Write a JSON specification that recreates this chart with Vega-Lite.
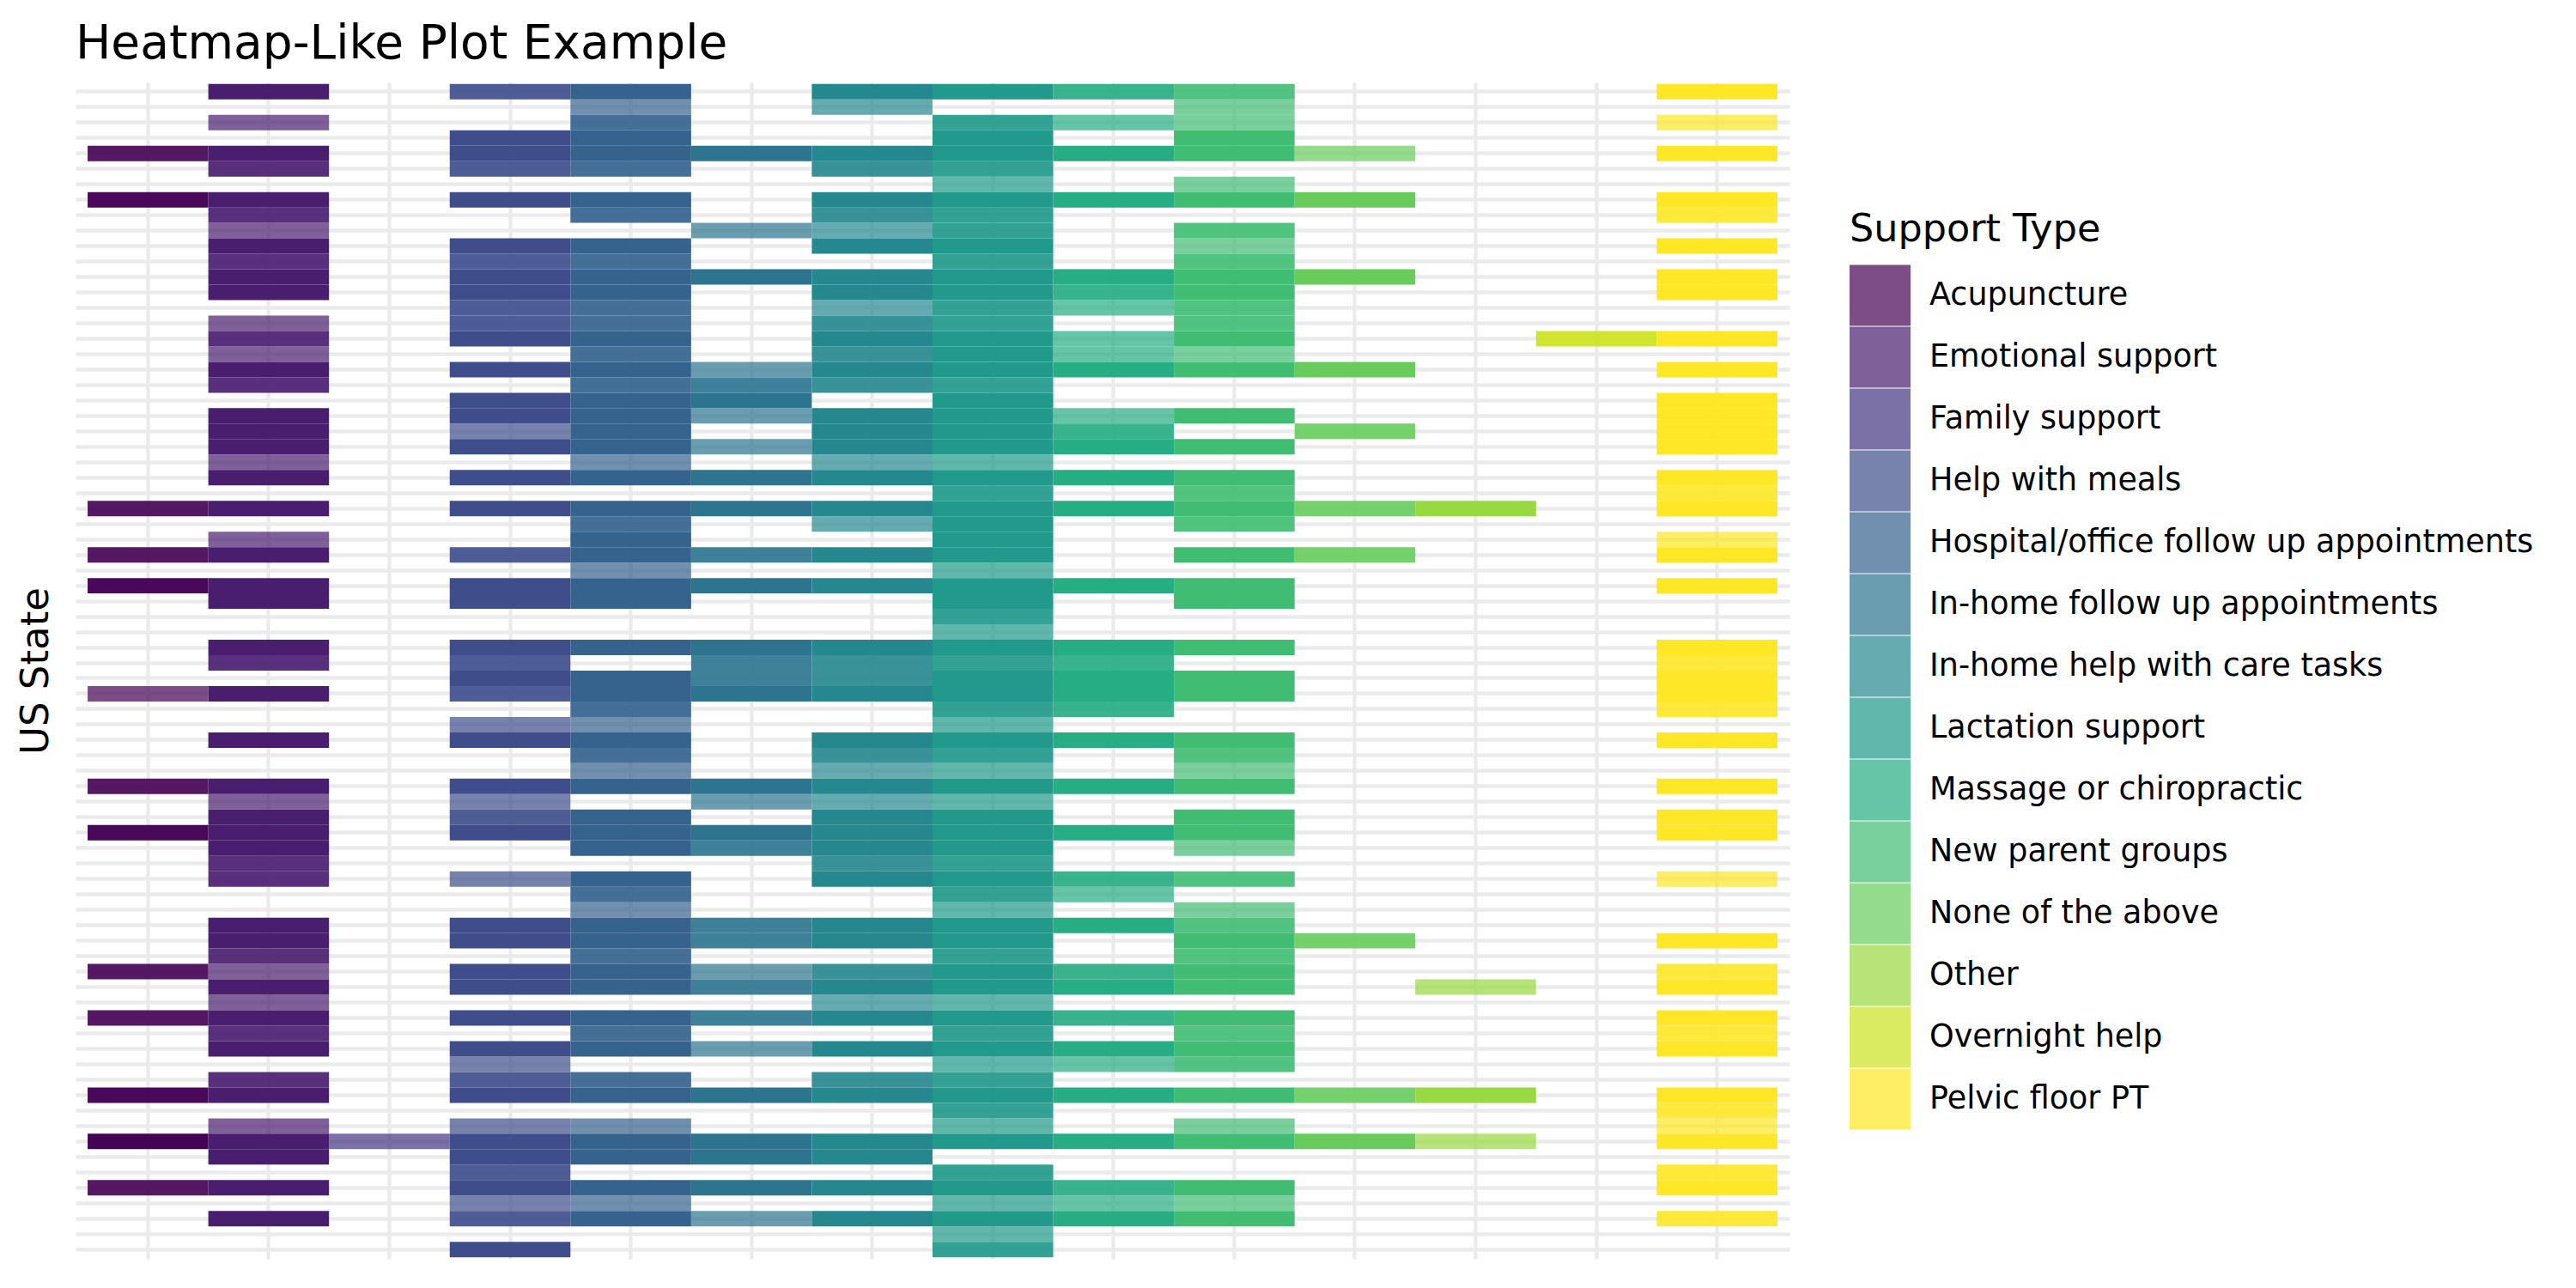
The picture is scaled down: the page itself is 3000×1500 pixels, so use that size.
{
  "$schema": "https://vega.github.io/schema/vega-lite/v6.json",
  "width": 1996,
  "height": 1370,
  "autosize": {"type": "none"},
  "padding": {"left": 88, "top": 96, "right": 916, "bottom": 34},
  "background": "white",
  "config": {"view": {"stroke": null}, "font": "DejaVu Sans"},
  "title": {"text": "Heatmap-Like Plot Example", "anchor": "start", "frame": "group", "fontSize": 55, "font": "DejaVu Sans", "fontWeight": "normal", "color": "black", "offset": 16},
  "data": {"values": [
{"state":"State 01","type":"Emotional support","n":4},{"state":"State 01","type":"Help with meals","n":2},{"state":"State 01","type":"Hospital/office follow up appointments","n":4},{"state":"State 01","type":"In-home help with care tasks","n":4},{"state":"State 01","type":"Lactation support","n":4},{"state":"State 01","type":"Massage or chiropractic","n":2},{"state":"State 01","type":"New parent groups","n":2},{"state":"State 01","type":"Pelvic floor PT","n":4},
{"state":"State 02","type":"Hospital/office follow up appointments","n":1},{"state":"State 02","type":"In-home help with care tasks","n":1},{"state":"State 02","type":"New parent groups","n":1},
{"state":"State 03","type":"Emotional support","n":1},{"state":"State 03","type":"Hospital/office follow up appointments","n":2},{"state":"State 03","type":"Lactation support","n":2},{"state":"State 03","type":"Massage or chiropractic","n":1},{"state":"State 03","type":"New parent groups","n":1},{"state":"State 03","type":"Pelvic floor PT","n":1},
{"state":"State 04","type":"Help with meals","n":4},{"state":"State 04","type":"Hospital/office follow up appointments","n":4},{"state":"State 04","type":"Lactation support","n":4},{"state":"State 04","type":"New parent groups","n":4},
{"state":"State 05","type":"Acupuncture","n":2},{"state":"State 05","type":"Emotional support","n":4},{"state":"State 05","type":"Help with meals","n":4},{"state":"State 05","type":"Hospital/office follow up appointments","n":4},{"state":"State 05","type":"In-home follow up appointments","n":4},{"state":"State 05","type":"In-home help with care tasks","n":4},{"state":"State 05","type":"Lactation support","n":4},{"state":"State 05","type":"Massage or chiropractic","n":4},{"state":"State 05","type":"New parent groups","n":4},{"state":"State 05","type":"None of the above","n":1},{"state":"State 05","type":"Pelvic floor PT","n":4},
{"state":"State 06","type":"Emotional support","n":2},{"state":"State 06","type":"Help with meals","n":2},{"state":"State 06","type":"Hospital/office follow up appointments","n":2},{"state":"State 06","type":"In-home help with care tasks","n":2},{"state":"State 06","type":"Lactation support","n":2},
{"state":"State 07","type":"Lactation support","n":1},{"state":"State 07","type":"New parent groups","n":1},
{"state":"State 08","type":"Acupuncture","n":3},{"state":"State 08","type":"Emotional support","n":4},{"state":"State 08","type":"Help with meals","n":4},{"state":"State 08","type":"Hospital/office follow up appointments","n":4},{"state":"State 08","type":"In-home help with care tasks","n":4},{"state":"State 08","type":"Lactation support","n":4},{"state":"State 08","type":"Massage or chiropractic","n":4},{"state":"State 08","type":"New parent groups","n":4},{"state":"State 08","type":"None of the above","n":4},{"state":"State 08","type":"Pelvic floor PT","n":4},
{"state":"State 09","type":"Emotional support","n":2},{"state":"State 09","type":"Hospital/office follow up appointments","n":2},{"state":"State 09","type":"In-home help with care tasks","n":2},{"state":"State 09","type":"Lactation support","n":2},{"state":"State 09","type":"Pelvic floor PT","n":2},
{"state":"State 10","type":"Emotional support","n":1},{"state":"State 10","type":"In-home follow up appointments","n":1},{"state":"State 10","type":"In-home help with care tasks","n":1},{"state":"State 10","type":"Lactation support","n":2},{"state":"State 10","type":"New parent groups","n":2},
{"state":"State 11","type":"Emotional support","n":4},{"state":"State 11","type":"Help with meals","n":4},{"state":"State 11","type":"Hospital/office follow up appointments","n":4},{"state":"State 11","type":"In-home help with care tasks","n":4},{"state":"State 11","type":"Lactation support","n":4},{"state":"State 11","type":"New parent groups","n":1},{"state":"State 11","type":"Pelvic floor PT","n":4},
{"state":"State 12","type":"Emotional support","n":2},{"state":"State 12","type":"Help with meals","n":2},{"state":"State 12","type":"Hospital/office follow up appointments","n":2},{"state":"State 12","type":"Lactation support","n":2},{"state":"State 12","type":"New parent groups","n":2},
{"state":"State 13","type":"Emotional support","n":4},{"state":"State 13","type":"Help with meals","n":4},{"state":"State 13","type":"Hospital/office follow up appointments","n":4},{"state":"State 13","type":"In-home follow up appointments","n":4},{"state":"State 13","type":"In-home help with care tasks","n":4},{"state":"State 13","type":"Lactation support","n":4},{"state":"State 13","type":"Massage or chiropractic","n":4},{"state":"State 13","type":"New parent groups","n":4},{"state":"State 13","type":"None of the above","n":4},{"state":"State 13","type":"Pelvic floor PT","n":4},
{"state":"State 14","type":"Emotional support","n":4},{"state":"State 14","type":"Help with meals","n":4},{"state":"State 14","type":"Hospital/office follow up appointments","n":4},{"state":"State 14","type":"In-home help with care tasks","n":4},{"state":"State 14","type":"Lactation support","n":4},{"state":"State 14","type":"Massage or chiropractic","n":2},{"state":"State 14","type":"New parent groups","n":4},{"state":"State 14","type":"Pelvic floor PT","n":4},
{"state":"State 15","type":"Help with meals","n":2},{"state":"State 15","type":"Hospital/office follow up appointments","n":2},{"state":"State 15","type":"In-home help with care tasks","n":1},{"state":"State 15","type":"Lactation support","n":2},{"state":"State 15","type":"Massage or chiropractic","n":1},{"state":"State 15","type":"New parent groups","n":2},
{"state":"State 16","type":"Emotional support","n":1},{"state":"State 16","type":"Help with meals","n":2},{"state":"State 16","type":"Hospital/office follow up appointments","n":2},{"state":"State 16","type":"In-home help with care tasks","n":2},{"state":"State 16","type":"Lactation support","n":2},{"state":"State 16","type":"New parent groups","n":2},
{"state":"State 17","type":"Emotional support","n":2},{"state":"State 17","type":"Help with meals","n":4},{"state":"State 17","type":"Hospital/office follow up appointments","n":4},{"state":"State 17","type":"In-home help with care tasks","n":4},{"state":"State 17","type":"Lactation support","n":4},{"state":"State 17","type":"Massage or chiropractic","n":1},{"state":"State 17","type":"New parent groups","n":4},{"state":"State 17","type":"Overnight help","n":2},{"state":"State 17","type":"Pelvic floor PT","n":4},
{"state":"State 18","type":"Emotional support","n":1},{"state":"State 18","type":"Hospital/office follow up appointments","n":2},{"state":"State 18","type":"In-home help with care tasks","n":2},{"state":"State 18","type":"Lactation support","n":4},{"state":"State 18","type":"Massage or chiropractic","n":1},{"state":"State 18","type":"New parent groups","n":1},
{"state":"State 19","type":"Emotional support","n":4},{"state":"State 19","type":"Help with meals","n":4},{"state":"State 19","type":"Hospital/office follow up appointments","n":4},{"state":"State 19","type":"In-home follow up appointments","n":1},{"state":"State 19","type":"In-home help with care tasks","n":4},{"state":"State 19","type":"Lactation support","n":4},{"state":"State 19","type":"Massage or chiropractic","n":4},{"state":"State 19","type":"New parent groups","n":4},{"state":"State 19","type":"None of the above","n":4},{"state":"State 19","type":"Pelvic floor PT","n":4},
{"state":"State 20","type":"Emotional support","n":2},{"state":"State 20","type":"Hospital/office follow up appointments","n":2},{"state":"State 20","type":"In-home follow up appointments","n":2},{"state":"State 20","type":"In-home help with care tasks","n":2},{"state":"State 20","type":"Lactation support","n":2},
{"state":"State 21","type":"Help with meals","n":4},{"state":"State 21","type":"Hospital/office follow up appointments","n":4},{"state":"State 21","type":"In-home follow up appointments","n":4},{"state":"State 21","type":"Lactation support","n":4},{"state":"State 21","type":"Pelvic floor PT","n":4},
{"state":"State 22","type":"Emotional support","n":4},{"state":"State 22","type":"Help with meals","n":4},{"state":"State 22","type":"Hospital/office follow up appointments","n":4},{"state":"State 22","type":"In-home follow up appointments","n":1},{"state":"State 22","type":"In-home help with care tasks","n":4},{"state":"State 22","type":"Lactation support","n":4},{"state":"State 22","type":"Massage or chiropractic","n":1},{"state":"State 22","type":"New parent groups","n":4},{"state":"State 22","type":"Pelvic floor PT","n":4},
{"state":"State 23","type":"Emotional support","n":4},{"state":"State 23","type":"Help with meals","n":1},{"state":"State 23","type":"Hospital/office follow up appointments","n":4},{"state":"State 23","type":"In-home help with care tasks","n":4},{"state":"State 23","type":"Lactation support","n":4},{"state":"State 23","type":"Massage or chiropractic","n":2},{"state":"State 23","type":"None of the above","n":2},{"state":"State 23","type":"Pelvic floor PT","n":4},
{"state":"State 24","type":"Emotional support","n":4},{"state":"State 24","type":"Help with meals","n":4},{"state":"State 24","type":"Hospital/office follow up appointments","n":4},{"state":"State 24","type":"In-home follow up appointments","n":1},{"state":"State 24","type":"In-home help with care tasks","n":4},{"state":"State 24","type":"Lactation support","n":4},{"state":"State 24","type":"Massage or chiropractic","n":4},{"state":"State 24","type":"New parent groups","n":4},{"state":"State 24","type":"Pelvic floor PT","n":4},
{"state":"State 25","type":"Emotional support","n":1},{"state":"State 25","type":"Hospital/office follow up appointments","n":1},{"state":"State 25","type":"In-home help with care tasks","n":1},{"state":"State 25","type":"Lactation support","n":1},
{"state":"State 26","type":"Emotional support","n":4},{"state":"State 26","type":"Help with meals","n":4},{"state":"State 26","type":"Hospital/office follow up appointments","n":4},{"state":"State 26","type":"In-home follow up appointments","n":4},{"state":"State 26","type":"In-home help with care tasks","n":4},{"state":"State 26","type":"Lactation support","n":4},{"state":"State 26","type":"Massage or chiropractic","n":4},{"state":"State 26","type":"New parent groups","n":4},{"state":"State 26","type":"Pelvic floor PT","n":4},
{"state":"State 27","type":"Lactation support","n":2},{"state":"State 27","type":"New parent groups","n":2},{"state":"State 27","type":"Pelvic floor PT","n":2},
{"state":"State 28","type":"Acupuncture","n":2},{"state":"State 28","type":"Emotional support","n":4},{"state":"State 28","type":"Help with meals","n":4},{"state":"State 28","type":"Hospital/office follow up appointments","n":4},{"state":"State 28","type":"In-home follow up appointments","n":4},{"state":"State 28","type":"In-home help with care tasks","n":4},{"state":"State 28","type":"Lactation support","n":4},{"state":"State 28","type":"Massage or chiropractic","n":4},{"state":"State 28","type":"New parent groups","n":4},{"state":"State 28","type":"None of the above","n":2},{"state":"State 28","type":"Other","n":4},{"state":"State 28","type":"Pelvic floor PT","n":4},
{"state":"State 29","type":"Hospital/office follow up appointments","n":2},{"state":"State 29","type":"In-home help with care tasks","n":1},{"state":"State 29","type":"Lactation support","n":4},{"state":"State 29","type":"New parent groups","n":2},
{"state":"State 30","type":"Emotional support","n":1},{"state":"State 30","type":"Hospital/office follow up appointments","n":4},{"state":"State 30","type":"Lactation support","n":4},{"state":"State 30","type":"Pelvic floor PT","n":1},
{"state":"State 31","type":"Acupuncture","n":2},{"state":"State 31","type":"Emotional support","n":4},{"state":"State 31","type":"Help with meals","n":2},{"state":"State 31","type":"Hospital/office follow up appointments","n":4},{"state":"State 31","type":"In-home follow up appointments","n":2},{"state":"State 31","type":"In-home help with care tasks","n":4},{"state":"State 31","type":"Lactation support","n":4},{"state":"State 31","type":"New parent groups","n":4},{"state":"State 31","type":"None of the above","n":2},{"state":"State 31","type":"Pelvic floor PT","n":4},
{"state":"State 32","type":"Hospital/office follow up appointments","n":1},{"state":"State 32","type":"Lactation support","n":1},
{"state":"State 33","type":"Acupuncture","n":3},{"state":"State 33","type":"Emotional support","n":4},{"state":"State 33","type":"Help with meals","n":4},{"state":"State 33","type":"Hospital/office follow up appointments","n":4},{"state":"State 33","type":"In-home follow up appointments","n":4},{"state":"State 33","type":"In-home help with care tasks","n":4},{"state":"State 33","type":"Lactation support","n":4},{"state":"State 33","type":"Massage or chiropractic","n":4},{"state":"State 33","type":"New parent groups","n":4},{"state":"State 33","type":"Pelvic floor PT","n":4},
{"state":"State 34","type":"Emotional support","n":4},{"state":"State 34","type":"Help with meals","n":4},{"state":"State 34","type":"Hospital/office follow up appointments","n":4},{"state":"State 34","type":"Lactation support","n":4},{"state":"State 34","type":"New parent groups","n":4},
{"state":"State 35","type":"Lactation support","n":2},
{"state":"State 36","type":"Lactation support","n":1},
{"state":"State 37","type":"Emotional support","n":4},{"state":"State 37","type":"Help with meals","n":4},{"state":"State 37","type":"Hospital/office follow up appointments","n":4},{"state":"State 37","type":"In-home follow up appointments","n":4},{"state":"State 37","type":"In-home help with care tasks","n":4},{"state":"State 37","type":"Lactation support","n":4},{"state":"State 37","type":"Massage or chiropractic","n":4},{"state":"State 37","type":"New parent groups","n":4},{"state":"State 37","type":"Pelvic floor PT","n":4},
{"state":"State 38","type":"Emotional support","n":2},{"state":"State 38","type":"Help with meals","n":2},{"state":"State 38","type":"In-home follow up appointments","n":2},{"state":"State 38","type":"In-home help with care tasks","n":2},{"state":"State 38","type":"Lactation support","n":2},{"state":"State 38","type":"Massage or chiropractic","n":2},{"state":"State 38","type":"Pelvic floor PT","n":2},
{"state":"State 39","type":"Help with meals","n":4},{"state":"State 39","type":"Hospital/office follow up appointments","n":4},{"state":"State 39","type":"In-home follow up appointments","n":2},{"state":"State 39","type":"In-home help with care tasks","n":2},{"state":"State 39","type":"Lactation support","n":4},{"state":"State 39","type":"Massage or chiropractic","n":4},{"state":"State 39","type":"New parent groups","n":4},{"state":"State 39","type":"Pelvic floor PT","n":4},
{"state":"State 40","type":"Acupuncture","n":1},{"state":"State 40","type":"Emotional support","n":4},{"state":"State 40","type":"Help with meals","n":2},{"state":"State 40","type":"Hospital/office follow up appointments","n":4},{"state":"State 40","type":"In-home follow up appointments","n":4},{"state":"State 40","type":"In-home help with care tasks","n":4},{"state":"State 40","type":"Lactation support","n":4},{"state":"State 40","type":"Massage or chiropractic","n":4},{"state":"State 40","type":"New parent groups","n":4},{"state":"State 40","type":"Pelvic floor PT","n":4},
{"state":"State 41","type":"Hospital/office follow up appointments","n":2},{"state":"State 41","type":"Lactation support","n":2},{"state":"State 41","type":"Massage or chiropractic","n":2},{"state":"State 41","type":"Pelvic floor PT","n":2},
{"state":"State 42","type":"Help with meals","n":1},{"state":"State 42","type":"Hospital/office follow up appointments","n":1},{"state":"State 42","type":"Lactation support","n":1},
{"state":"State 43","type":"Emotional support","n":4},{"state":"State 43","type":"Help with meals","n":4},{"state":"State 43","type":"Hospital/office follow up appointments","n":4},{"state":"State 43","type":"In-home help with care tasks","n":4},{"state":"State 43","type":"Lactation support","n":4},{"state":"State 43","type":"Massage or chiropractic","n":4},{"state":"State 43","type":"New parent groups","n":4},{"state":"State 43","type":"Pelvic floor PT","n":4},
{"state":"State 44","type":"Hospital/office follow up appointments","n":2},{"state":"State 44","type":"In-home help with care tasks","n":2},{"state":"State 44","type":"Lactation support","n":2},{"state":"State 44","type":"New parent groups","n":2},
{"state":"State 45","type":"Hospital/office follow up appointments","n":1},{"state":"State 45","type":"In-home help with care tasks","n":1},{"state":"State 45","type":"Lactation support","n":1},{"state":"State 45","type":"New parent groups","n":1},
{"state":"State 46","type":"Acupuncture","n":2},{"state":"State 46","type":"Emotional support","n":4},{"state":"State 46","type":"Help with meals","n":4},{"state":"State 46","type":"Hospital/office follow up appointments","n":4},{"state":"State 46","type":"In-home follow up appointments","n":4},{"state":"State 46","type":"In-home help with care tasks","n":4},{"state":"State 46","type":"Lactation support","n":4},{"state":"State 46","type":"Massage or chiropractic","n":4},{"state":"State 46","type":"New parent groups","n":4},{"state":"State 46","type":"Pelvic floor PT","n":4},
{"state":"State 47","type":"Emotional support","n":1},{"state":"State 47","type":"Help with meals","n":1},{"state":"State 47","type":"In-home follow up appointments","n":1},{"state":"State 47","type":"In-home help with care tasks","n":1},{"state":"State 47","type":"Lactation support","n":1},
{"state":"State 48","type":"Emotional support","n":4},{"state":"State 48","type":"Help with meals","n":2},{"state":"State 48","type":"Hospital/office follow up appointments","n":4},{"state":"State 48","type":"In-home help with care tasks","n":4},{"state":"State 48","type":"Lactation support","n":4},{"state":"State 48","type":"New parent groups","n":4},{"state":"State 48","type":"Pelvic floor PT","n":4},
{"state":"State 49","type":"Acupuncture","n":3},{"state":"State 49","type":"Emotional support","n":4},{"state":"State 49","type":"Help with meals","n":4},{"state":"State 49","type":"Hospital/office follow up appointments","n":4},{"state":"State 49","type":"In-home follow up appointments","n":4},{"state":"State 49","type":"In-home help with care tasks","n":4},{"state":"State 49","type":"Lactation support","n":4},{"state":"State 49","type":"Massage or chiropractic","n":4},{"state":"State 49","type":"New parent groups","n":4},{"state":"State 49","type":"Pelvic floor PT","n":4},
{"state":"State 50","type":"Emotional support","n":4},{"state":"State 50","type":"Hospital/office follow up appointments","n":4},{"state":"State 50","type":"In-home follow up appointments","n":2},{"state":"State 50","type":"In-home help with care tasks","n":4},{"state":"State 50","type":"Lactation support","n":4},{"state":"State 50","type":"New parent groups","n":1},
{"state":"State 51","type":"Emotional support","n":2},{"state":"State 51","type":"In-home help with care tasks","n":2},{"state":"State 51","type":"Lactation support","n":2},
{"state":"State 52","type":"Emotional support","n":2},{"state":"State 52","type":"Help with meals","n":1},{"state":"State 52","type":"Hospital/office follow up appointments","n":4},{"state":"State 52","type":"In-home help with care tasks","n":4},{"state":"State 52","type":"Lactation support","n":4},{"state":"State 52","type":"Massage or chiropractic","n":2},{"state":"State 52","type":"New parent groups","n":2},{"state":"State 52","type":"Pelvic floor PT","n":1},
{"state":"State 53","type":"Hospital/office follow up appointments","n":2},{"state":"State 53","type":"Lactation support","n":2},{"state":"State 53","type":"Massage or chiropractic","n":1},
{"state":"State 54","type":"Hospital/office follow up appointments","n":1},{"state":"State 54","type":"Lactation support","n":1},{"state":"State 54","type":"New parent groups","n":1},
{"state":"State 55","type":"Emotional support","n":4},{"state":"State 55","type":"Help with meals","n":4},{"state":"State 55","type":"Hospital/office follow up appointments","n":4},{"state":"State 55","type":"In-home follow up appointments","n":2},{"state":"State 55","type":"In-home help with care tasks","n":4},{"state":"State 55","type":"Lactation support","n":4},{"state":"State 55","type":"Massage or chiropractic","n":4},{"state":"State 55","type":"New parent groups","n":2},
{"state":"State 56","type":"Emotional support","n":4},{"state":"State 56","type":"Help with meals","n":4},{"state":"State 56","type":"Hospital/office follow up appointments","n":4},{"state":"State 56","type":"In-home follow up appointments","n":2},{"state":"State 56","type":"In-home help with care tasks","n":4},{"state":"State 56","type":"Lactation support","n":4},{"state":"State 56","type":"New parent groups","n":4},{"state":"State 56","type":"None of the above","n":2},{"state":"State 56","type":"Pelvic floor PT","n":4},
{"state":"State 57","type":"Emotional support","n":2},{"state":"State 57","type":"Hospital/office follow up appointments","n":2},{"state":"State 57","type":"Lactation support","n":2},{"state":"State 57","type":"New parent groups","n":2},
{"state":"State 58","type":"Acupuncture","n":2},{"state":"State 58","type":"Emotional support","n":1},{"state":"State 58","type":"Help with meals","n":4},{"state":"State 58","type":"Hospital/office follow up appointments","n":4},{"state":"State 58","type":"In-home follow up appointments","n":1},{"state":"State 58","type":"In-home help with care tasks","n":2},{"state":"State 58","type":"Lactation support","n":4},{"state":"State 58","type":"Massage or chiropractic","n":2},{"state":"State 58","type":"New parent groups","n":4},{"state":"State 58","type":"Pelvic floor PT","n":2},
{"state":"State 59","type":"Emotional support","n":4},{"state":"State 59","type":"Help with meals","n":4},{"state":"State 59","type":"Hospital/office follow up appointments","n":4},{"state":"State 59","type":"In-home follow up appointments","n":2},{"state":"State 59","type":"In-home help with care tasks","n":4},{"state":"State 59","type":"Lactation support","n":4},{"state":"State 59","type":"Massage or chiropractic","n":4},{"state":"State 59","type":"New parent groups","n":4},{"state":"State 59","type":"Other","n":1},{"state":"State 59","type":"Pelvic floor PT","n":4},
{"state":"State 60","type":"Emotional support","n":1},{"state":"State 60","type":"In-home help with care tasks","n":1},{"state":"State 60","type":"Lactation support","n":1},
{"state":"State 61","type":"Acupuncture","n":2},{"state":"State 61","type":"Emotional support","n":4},{"state":"State 61","type":"Help with meals","n":4},{"state":"State 61","type":"Hospital/office follow up appointments","n":4},{"state":"State 61","type":"In-home follow up appointments","n":2},{"state":"State 61","type":"In-home help with care tasks","n":4},{"state":"State 61","type":"Lactation support","n":4},{"state":"State 61","type":"Massage or chiropractic","n":2},{"state":"State 61","type":"New parent groups","n":4},{"state":"State 61","type":"Pelvic floor PT","n":4},
{"state":"State 62","type":"Emotional support","n":2},{"state":"State 62","type":"Hospital/office follow up appointments","n":2},{"state":"State 62","type":"Lactation support","n":2},{"state":"State 62","type":"New parent groups","n":2},{"state":"State 62","type":"Pelvic floor PT","n":2},
{"state":"State 63","type":"Emotional support","n":4},{"state":"State 63","type":"Help with meals","n":4},{"state":"State 63","type":"Hospital/office follow up appointments","n":4},{"state":"State 63","type":"In-home follow up appointments","n":1},{"state":"State 63","type":"In-home help with care tasks","n":4},{"state":"State 63","type":"Lactation support","n":4},{"state":"State 63","type":"Massage or chiropractic","n":4},{"state":"State 63","type":"New parent groups","n":4},{"state":"State 63","type":"Pelvic floor PT","n":4},
{"state":"State 64","type":"Help with meals","n":1},{"state":"State 64","type":"Lactation support","n":1},{"state":"State 64","type":"Massage or chiropractic","n":1},{"state":"State 64","type":"New parent groups","n":2},
{"state":"State 65","type":"Emotional support","n":2},{"state":"State 65","type":"Help with meals","n":2},{"state":"State 65","type":"Hospital/office follow up appointments","n":2},{"state":"State 65","type":"In-home help with care tasks","n":2},{"state":"State 65","type":"Lactation support","n":2},
{"state":"State 66","type":"Acupuncture","n":3},{"state":"State 66","type":"Emotional support","n":4},{"state":"State 66","type":"Help with meals","n":4},{"state":"State 66","type":"Hospital/office follow up appointments","n":4},{"state":"State 66","type":"In-home follow up appointments","n":4},{"state":"State 66","type":"In-home help with care tasks","n":4},{"state":"State 66","type":"Lactation support","n":4},{"state":"State 66","type":"Massage or chiropractic","n":4},{"state":"State 66","type":"New parent groups","n":4},{"state":"State 66","type":"None of the above","n":2},{"state":"State 66","type":"Other","n":4},{"state":"State 66","type":"Pelvic floor PT","n":4},
{"state":"State 67","type":"Lactation support","n":2},{"state":"State 67","type":"Pelvic floor PT","n":2},
{"state":"State 68","type":"Emotional support","n":1},{"state":"State 68","type":"Help with meals","n":1},{"state":"State 68","type":"Hospital/office follow up appointments","n":1},{"state":"State 68","type":"Lactation support","n":1},{"state":"State 68","type":"New parent groups","n":1},{"state":"State 68","type":"Pelvic floor PT","n":1},
{"state":"State 69","type":"Acupuncture","n":4},{"state":"State 69","type":"Emotional support","n":4},{"state":"State 69","type":"Family support","n":1},{"state":"State 69","type":"Help with meals","n":4},{"state":"State 69","type":"Hospital/office follow up appointments","n":4},{"state":"State 69","type":"In-home follow up appointments","n":4},{"state":"State 69","type":"In-home help with care tasks","n":4},{"state":"State 69","type":"Lactation support","n":4},{"state":"State 69","type":"Massage or chiropractic","n":4},{"state":"State 69","type":"New parent groups","n":4},{"state":"State 69","type":"None of the above","n":4},{"state":"State 69","type":"Other","n":1},{"state":"State 69","type":"Pelvic floor PT","n":4},
{"state":"State 70","type":"Emotional support","n":4},{"state":"State 70","type":"Help with meals","n":4},{"state":"State 70","type":"Hospital/office follow up appointments","n":4},{"state":"State 70","type":"In-home follow up appointments","n":4},{"state":"State 70","type":"In-home help with care tasks","n":4},
{"state":"State 71","type":"Help with meals","n":2},{"state":"State 71","type":"Lactation support","n":2},{"state":"State 71","type":"Pelvic floor PT","n":2},
{"state":"State 72","type":"Acupuncture","n":2},{"state":"State 72","type":"Emotional support","n":4},{"state":"State 72","type":"Help with meals","n":4},{"state":"State 72","type":"Hospital/office follow up appointments","n":4},{"state":"State 72","type":"In-home follow up appointments","n":4},{"state":"State 72","type":"In-home help with care tasks","n":4},{"state":"State 72","type":"Lactation support","n":4},{"state":"State 72","type":"Massage or chiropractic","n":2},{"state":"State 72","type":"New parent groups","n":4},{"state":"State 72","type":"Pelvic floor PT","n":4},
{"state":"State 73","type":"Help with meals","n":1},{"state":"State 73","type":"Hospital/office follow up appointments","n":1},{"state":"State 73","type":"Lactation support","n":1},{"state":"State 73","type":"Massage or chiropractic","n":1},{"state":"State 73","type":"New parent groups","n":1},
{"state":"State 74","type":"Emotional support","n":4},{"state":"State 74","type":"Help with meals","n":2},{"state":"State 74","type":"Hospital/office follow up appointments","n":4},{"state":"State 74","type":"In-home follow up appointments","n":1},{"state":"State 74","type":"In-home help with care tasks","n":4},{"state":"State 74","type":"Lactation support","n":4},{"state":"State 74","type":"Massage or chiropractic","n":4},{"state":"State 74","type":"New parent groups","n":4},{"state":"State 74","type":"Pelvic floor PT","n":2},
{"state":"State 75","type":"Lactation support","n":1},
{"state":"State 76","type":"Help with meals","n":4},{"state":"State 76","type":"Lactation support","n":2}
  ]},
  "mark": {"type": "rect"},
  "encoding": {
    "x": {
      "field": "type", "type": "nominal",
      "scale": {"domain": ["Acupuncture","Emotional support","Family support","Help with meals","Hospital/office follow up appointments","In-home follow up appointments","In-home help with care tasks","Lactation support","Massage or chiropractic","New parent groups","None of the above","Other","Overnight help","Pelvic floor PT"], "paddingInner": 0, "paddingOuter": 0.1},
      "axis": {"title": null, "labels": false, "ticks": false, "domain": false, "grid": true, "gridColor": "#ebebeb", "gridWidth": 4.4, "bandPosition": 0.5, "zindex": 0}
    },
    "y": {
      "field": "state", "type": "nominal",
      "scale": {"paddingInner": 0, "paddingOuter": 0.1},
      "axis": {"title": "US State", "titleFontSize": 45, "titleFont": "DejaVu Sans", "titleFontWeight": "normal", "titleColor": "black", "titlePadding": 24, "labels": false, "ticks": false, "domain": false, "grid": true, "gridColor": "#ebebeb", "gridWidth": 4.4, "bandPosition": 0.5, "zindex": 0}
    },
    "color": {
      "field": "type", "type": "nominal",
      "scale": {"domain": ["Acupuncture","Emotional support","Family support","Help with meals","Hospital/office follow up appointments","In-home follow up appointments","In-home help with care tasks","Lactation support","Massage or chiropractic","New parent groups","None of the above","Other","Overnight help","Pelvic floor PT"], "range": ["#440154","#481C6E","#453581","#3D4D8A","#34618D","#2B748E","#24878E","#1F998A","#25AC82","#40BC72","#67CC5C","#97D83F","#CBE11E","#FDE725"]},
      "legend": {"title": "Support Type", "orient": "none", "legendX": 2066, "legendY": 150, "titleFontSize": 44.5, "titleFont": "DejaVu Sans", "titleFontWeight": "normal", "titleColor": "black", "titlePadding": 18, "titleLimit": 1000, "labelFontSize": 36.5, "labelFont": "DejaVu Sans", "labelColor": "black", "labelOffset": 22, "symbolType": "square", "symbolSize": 5041, "symbolStrokeWidth": 0, "symbolOpacity": 0.7, "rowPadding": 1, "labelLimit": 1000}
    },
    "opacity": {
      "field": "n", "type": "quantitative",
      "scale": {"domain": [1, 2, 3, 4], "range": [0.7, 0.91, 0.973, 0.992]},
      "legend": null
    }
  }
}
